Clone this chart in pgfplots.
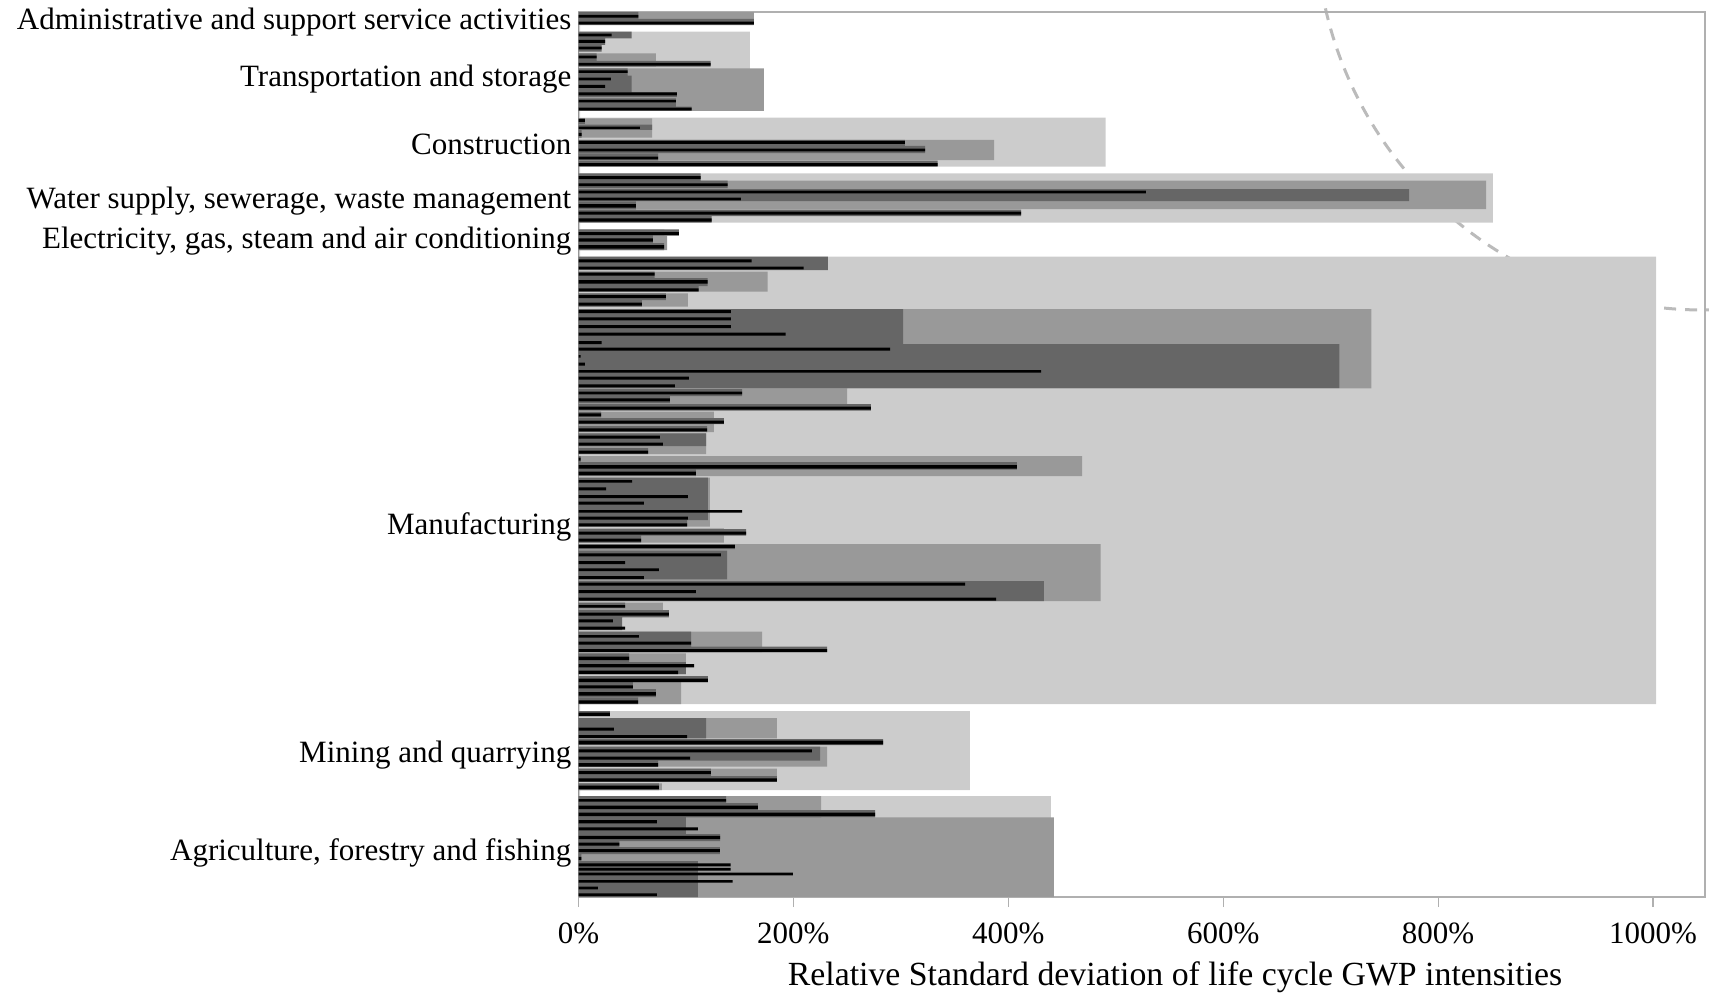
\documentclass[border=0pt]{standalone}
\usepackage{pgfplots}
\pgfplotsset{compat=1.18}
\usepackage{fontspec}
\setmainfont{Liberation Serif}
\definecolor{secgray}{HTML}{CCCCCC}
\definecolor{divgray}{HTML}{999999}
\definecolor{grpgray}{HTML}{666666}
\definecolor{framegray}{HTML}{B0B0B0}
\definecolor{arcgray}{HTML}{BBBBBB}
\pgfdeclarelayer{background}
\pgfsetlayers{background,main}

\begin{document}
\begin{tikzpicture}
\begin{axis}[
    scale only axis,
    width=563.25pt, height=442.5pt,
    xmin=0, xmax=1048.4,
    ymin=12, ymax=897,
    y dir=reverse,
    enlargelimits=false,
    axis line style={framegray, line width=0.6pt},
    tick align=outside,
    major tick length=5pt,
    xtick={0,200,400,600,800,1000},
    xticklabels={0\%,200\%,400\%,600\%,800\%,1000\%},
    xtick pos=bottom,
    xtick style={framegray, line width=0.6pt},
    ytick={19.6,76.3,141.8,198.5,238.8,524.6,752.5,850.7},
    yticklabels={Administrative and support service activities,
        Transportation and storage, Construction,
        {Water supply, sewerage, waste management},
        {Electricity, gas, steam and air conditioning},
        Manufacturing, Mining and quarrying,
        {Agriculture, forestry and fishing}},
    ytick style={draw=none},
    tick label style={font=\fontsize{15.5pt}{18pt}\selectfont},
    yticklabel style={anchor=east, inner sep=0pt, xshift=1.6pt, yshift=-1.3pt},
    xticklabel style={yshift=-4.2pt},
    xlabel={Relative Standard deviation of life cycle GWP intensities},
    xlabel style={font=\fontsize{16.9pt}{20pt}\selectfont, at={(axis description cs:0.5295,0)}, anchor=base, yshift=-44pt},
]
% sections
\addplot[xbar interval, fill=secgray, draw=none] coordinates {
(163,12)(1.5,25.3)(159.6,31.7)(1.5,111)(490.5,117.7)(1.5,166.7)(851,173.3)(1.5,222.7)
(80,229.3)(1.5,250)(1003,256.7)(1.5,704)(364.2,711)(1.5,790)(439.5,796)(0,897)};
% divisions
\addplot[xbar interval, fill=divgray, draw=none] coordinates {
(163.3,12)(0,25)
(72.1,53.3)(0,66.7)(172.6,68.3)(0,111)
(68.4,118.3)(0,137.7)(386.7,140)(0,160)
(844.6,180.7)(0,209)
(82.4,235.7)(0,250)
(176,271.7)(0,291.7)(101.9,293.3)(0,306.7)(738,309)(250,388.3)(0,404)
(126,411.7)(0,432)(118.7,433.3)(0,454)(468.6,456)(0,476)(122.3,477.7)(0,526.7)
(135.4,528.3)(0,542.7)(486,544)(0,601)(78.6,602.7)(0,616)(170.8,631.7)(0,652)
(100,653.3)(0,674)(95.4,682)(0,704)
(184.7,718)(0,738.3)(231.3,746.7)(0,766.7)(184.7,768.7)(0,781.7)(77.7,783.3)(0,790)
(225.7,796)(442.5,817.3)(0,897)};
% groups
\addplot[xbar interval, fill=grpgray, draw=none] coordinates {
(55.7,12)(163.3,19)(0,25)
(49.5,31.7)(24.7,38.3)(21.6,45)(0,51.7)(16.9,53.3)(123,61)(0,66.7)(45.8,68.3)(49.5,75.7)
(91.6,92.3)(0,97)(90.7,98.3)(105.3,106.7)(0,111)
(6,118.3)(0,124)(68.4,124.7)(3,130)(0,137.7)(303.8,140)(322.5,146)(0,153)(74,153.5)(0,160)
(334.3,160.5)(0,166.5)
(113.7,173.3)(0,180.5)(138.8,180.7)(0,188)(773,189)(0,201)(53.5,201.5)(0,209)(412,209.5)
(124,216)(0,222.7)
(93.5,229.3)(69.3,235.7)(79.6,243)(0,250)
(232,256.7)(0,270)(70.9,271.7)(120.2,278)(111.8,286)(0,291.7)(81.4,293.3)(59,300)(0,306.7)
(302,309)(708,344)(0,388)(152.2,389)(85.1,396)(0,403)(272.2,404)(0,410.5)(21,411.7)(0,417.3)
(135.4,418)(0,424)(119.6,426)(0,432)(118.7,433.3)(0,446)(64.7,448)(0,454)(2,456)(408,462)
(109.3,469.5)(0,476)(120.5,477.7)(101,520)(0,526.7)(156,529)(58.2,535.5)(0,542.7)
(145.6,544)(0,549)(138.2,550.7)(0,579.3)(433,581)(0,601)(43.3,602.7)(0,608)(84.2,610)
(40.5,617.3)(0,630)(104.7,631.7)(231.3,646.7)(0,652)(47,653.3)(100,662)(0,674)(120.5,676)
(50.7,682)(72.1,689)(0,697)(55.4,697.5)(0,704)
(29.3,711)(0,716)(118.7,718)(0,738.3)(283.4,739)(0,745)(224.8,746.7)(74,760.5)(0,766.7)
(123.3,768.7)(184.7,776)(0,781.7)(74.9,783.3)(0,790)
(137.3,796)(167,803)(276,810)(100,817.3)(131.7,834)(38,841)(131.5,847)(2.6,854)(111,861)(0,897)};
% classes
\addplot[xbar interval, fill=black, draw=none] coordinates {
(55.7,15)(0,17.7)(163.3,21.7)(0,24.3)
(30.9,33.7)(0,36.3)(24.7,40)(0,43)(21.6,46.7)(0,49.3)(16.9,55.7)(0,58.3)(123,63)(0,65.7)
(45.8,70.3)(0,73)(30.2,77.7)(0,80.3)(24.7,85)(0,88)(91.6,92.5)(0,95.5)(90.7,100)(0,102.5)
(105.3,107.7)(0,110.5)
(6,119)(0,122)(57.2,126.7)(0,129)(3,133)(0,136)(303.8,141)(0,144)(322.5,148.7)(0,151.5)
(74,156.7)(0,159.3)(334.3,163)(0,166)
(113.7,176)(0,179)(138.8,183.3)(0,186)(528,190.7)(0,193.3)(151.2,197.7)(0,200.3)
(53.5,204)(0,207.5)(412,211.7)(0,214.7)(124,218.3)(0,221.5)
(93.5,232)(0,235)(69.3,238.3)(0,241.5)(79.6,245)(0,248.5)
(161.2,259.3)(0,262.3)(209.6,266.7)(0,269.3)(70.9,272.7)(0,275.7)(120.2,280)(0,283.5)
(111.8,288.3)(0,291.3)(81.4,295)(0,298)(59,302.7)(0,305.7)(141.9,310)(0,313)
(141.9,317.3)(0,320.3)(141.9,325)(0,328)(192.8,332.7)(0,335.7)(21.6,341)(0,344)
(289.9,347.7)(0,350.7)(2,355)(0,357.7)(6,362.7)(0,365.5)(430.5,370)(0,372.7)
(102.8,376.7)(0,379.7)(89.8,384.3)(0,387.3)(152.2,391.7)(0,394.3)(85.1,398.3)(0,401.3)
(272.2,406.7)(0,409.7)(21,413.3)(0,416.3)(135.4,420.7)(0,423.7)(119.6,428.3)(0,431.3)
(75.8,435.7)(0,438.7)(78.6,442.7)(0,445.7)(64.7,450.7)(0,453.7)(2,457.7)(0,460.7)
(408,465)(0,468.5)(109.3,471.7)(0,475)(49.8,480)(0,482.7)(25.6,487.3)(0,490.3)
(101.9,495)(0,498)(60.9,501.7)(0,504.7)(152.2,510)(0,512.7)(101.9,516.7)(0,519.7)
(101,523.3)(0,526.3)(156,531.5)(0,534.5)(58.2,538.5)(0,541.7)(145.6,545)(0,548)
(132.6,553.3)(0,556.3)(43.3,561)(0,564)(74.9,568.3)(0,571)(60.9,576)(0,579)
(359.7,582.7)(0,585.7)(109.3,590)(0,593)(388.6,597.7)(0,600.7)(43.3,605)(0,607.7)
(84.2,612.7)(0,615.7)(32,619.3)(0,622.3)(43.3,626.7)(0,629.7)(56.3,635)(0,637.7)
(104.7,641.7)(0,644.7)(231.3,649)(0,652)(47,656.7)(0,660)(107.5,664)(0,667.3)
(92.6,670.7)(0,674)(120.5,678.7)(0,682)(50.7,685.3)(0,688.3)(72.1,692)(0,695.5)
(55.4,700.3)(0,703.7)
(29.3,712.7)(0,716)(33,727.7)(0,730.7)(101,735)(0,738)(283.4,740.7)(0,744.3)
(217.3,749.3)(0,752.3)(103.8,756.7)(0,759.7)(74,763)(0,766.5)(123.3,771)(0,774)
(184.7,778.3)(0,781.5)(74.9,785.7)(0,789)
(137.3,799)(0,801.7)(167,805.7)(0,809)(276,812.7)(0,816)(73,820)(0,823.3)
(111.2,827.3)(0,830.3)(131.7,835.8)(0,839)(38,842.5)(0,845.5)(131.5,849.2)(0,852.2)
(2.6,856.8)(0,859.8)(141.6,863.3)(0,866.3)(141.6,867.8)(0,870.6)(199.5,872.5)(0,875.3)
(143.5,880)(0,882.7)(18,886.7)(0,889.3)(73,893.3)(0,896)};
\coordinate (arcC) at (axis cs:1046.5,-77);
\coordinate (bbA) at (axis cs:-538.4,0);
\coordinate (bbB) at (axis cs:1052.1,994);
\end{axis}
\begin{pgfonlayer}{background}
\clip (bbA) rectangle (bbB);
\draw[arcgray, line width=1.5pt, dash pattern=on 6pt off 4.5pt] (arcC) circle[radius=193.5pt];
\end{pgfonlayer}
\pgfresetboundingbox
\path (bbA) rectangle (bbB);
\end{tikzpicture}
\end{document}
